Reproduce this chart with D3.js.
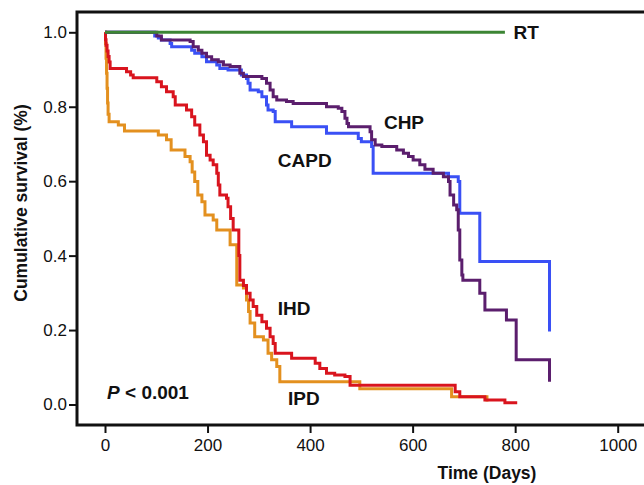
<!DOCTYPE html>
<html>
<head>
<meta charset="utf-8">
<script src="https://cdn.jsdelivr.net/npm/d3@7"></script>
<style>
  body { margin: 0; background: #fff; }
  svg text { font-family: "Liberation Sans", Arial, sans-serif; fill: #111; }
</style>
</head>
<body>
<svg id="chart" width="644" height="485"></svg>
<script>
// ticks
const xTicks = [0, 200, 400, 600, 800, 1000];
const yTicks = [0.0, 0.2, 0.4, 0.6, 0.8, 1.0];

// Kaplan-Meier steps, [day, survival after that day]
const ipd = [[0, 1], [1, 0.97], [2, 0.93], [3, 0.89], [4, 0.85], [5, 0.81], [6, 0.78], [8, 0.76],
  [26, 0.751], [38, 0.735], [104, 0.724], [120, 0.711], [129, 0.684], [156, 0.666], [166, 0.652],
  [170, 0.625], [175, 0.599], [181, 0.563], [189, 0.545], [195, 0.509], [211, 0.496], [218, 0.469],
  [244, 0.429], [257, 0.321], [270, 0.313], [276, 0.281], [280, 0.25], [283, 0.219], [292, 0.182],
  [309, 0.173], [318, 0.138], [325, 0.12], [335, 0.102], [341, 0.061], [497, 0.042], [676, 0.021],
  [745, 0.008]];

const ihd = [[0, 1], [1, 0.98], [2, 0.965], [4, 0.95], [6, 0.935], [8, 0.92], [10, 0.903],
  [42, 0.894], [50, 0.885], [55, 0.878], [101, 0.867], [110, 0.854], [120, 0.84], [133, 0.827],
  [137, 0.805], [159, 0.791], [169, 0.773], [175, 0.751], [185, 0.724], [192, 0.706], [198, 0.67],
  [205, 0.657], [211, 0.644], [218, 0.621], [221, 0.59], [224, 0.563], [237, 0.554], [240, 0.531],
  [245, 0.5], [250, 0.469], [261, 0.4], [263, 0.334], [270, 0.32], [276, 0.299], [283, 0.281],
  [289, 0.263], [296, 0.24], [306, 0.222], [315, 0.205], [322, 0.182], [328, 0.164], [332, 0.138],
  [364, 0.124], [410, 0.111], [419, 0.097], [432, 0.084], [448, 0.079], [468, 0.075], [478, 0.052],
  [683, 0.034], [692, 0.021], [741, 0.012], [780, 0.005], [804, 0.005]];

const capd = [[0, 1], [97, 0.99], [104, 0.985], [110, 0.979], [127, 0.97], [130, 0.961],
  [169, 0.952], [175, 0.944], [189, 0.934], [198, 0.921], [218, 0.912], [224, 0.903], [240, 0.899],
  [266, 0.885], [276, 0.876], [279, 0.863], [283, 0.845], [299, 0.84], [306, 0.827], [315, 0.805],
  [318, 0.791], [328, 0.787], [332, 0.76], [364, 0.746], [432, 0.729], [494, 0.715], [500, 0.706],
  [520, 0.693], [523, 0.621], [670, 0.612], [689, 0.599], [692, 0.514], [731, 0.384], [867, 0.196]];

const chp = [[0, 1], [101, 0.99], [110, 0.979], [166, 0.975], [172, 0.961], [182, 0.952],
  [189, 0.944], [198, 0.934], [208, 0.926], [221, 0.921], [231, 0.912], [244, 0.908], [263, 0.89],
  [270, 0.881], [306, 0.876], [315, 0.863], [322, 0.845], [328, 0.827], [335, 0.818], [354, 0.814],
  [367, 0.809], [432, 0.8], [455, 0.796], [462, 0.787], [468, 0.769], [472, 0.755], [475, 0.746],
  [517, 0.733], [520, 0.711], [527, 0.697], [540, 0.693], [569, 0.684], [582, 0.675], [592, 0.666],
  [601, 0.657], [614, 0.644], [624, 0.632], [640, 0.621], [660, 0.612], [670, 0.599], [673, 0.563],
  [680, 0.536], [686, 0.523], [689, 0.469], [692, 0.388], [696, 0.348], [698, 0.334], [731, 0.299],
  [741, 0.254], [783, 0.227], [802, 0.12], [867, 0.061]];

const rt = [[0, 1], [780, 1]];

// drawn in this order (later on top)
const series = [
  { name: "IPD", pts: ipd, color: "#e3901f" },
  { name: "IHD", pts: ihd, color: "#d9141e" },
  { name: "CAPD", pts: capd, color: "#3a50f5" },
  { name: "CHP", pts: chp, color: "#5b1e6d" },
  { name: "RT", pts: rt, color: "#3c8534" }
];

// curve labels, in data units
const labels = [
  { text: "RT", day: 797, s: 0.982 },
  { text: "CHP", day: 544, s: 0.74 },
  { text: "CAPD", day: 337, s: 0.638 },
  { text: "IHD", day: 337, s: 0.24 },
  { text: "IPD", day: 357, s: -0.001 }
];

const svg = d3.select("#chart");
const frame = { left: 77, top: 12, right: 644, bottom: 425 };

const x = d3.scaleLinear().domain([0, 1000]).range([105, 617.7]);
const y = d3.scaleLinear().domain([0, 1]).range([404.5, 32.3]);

// axes
const xAxis = d3.axisBottom(x).tickValues(xTicks).tickSize(8).tickPadding(6).tickFormat(d3.format("d"));
const yAxis = d3.axisLeft(y).tickValues(yTicks).tickSize(8).tickPadding(2).tickFormat(d3.format(".1f"));

const gx = svg.append("g").attr("transform", `translate(0,${frame.bottom})`).call(xAxis);
const gy = svg.append("g").attr("transform", `translate(${frame.left},0)`).call(yAxis);
[gx, gy].forEach(g => {
  g.select(".domain").remove();
  g.selectAll(".tick line").attr("stroke", "#111").attr("stroke-width", 2);
  g.selectAll(".tick text").attr("font-size", 17).attr("fill", "#111")
    .style("font-family", "'Liberation Sans', Arial, sans-serif");
});

// curves
const line = d3.line().x(d => x(d[0])).y(d => y(d[1])).curve(d3.curveStepAfter);
svg.append("g").selectAll("path")
  .data(series)
  .enter()
  .append("path")
  .attr("d", d => line(d.pts))
  .attr("fill", "none")
  .attr("stroke", d => d.color)
  .attr("stroke-width", 3);

// frame: top, left, bottom
svg.append("path")
  .attr("d", `M${frame.right},${frame.top}H${frame.left}V${frame.bottom}H${frame.right}`)
  .attr("fill", "none")
  .attr("stroke", "#111")
  .attr("stroke-width", 3);

svg.append("g").selectAll("text")
  .data(labels)
  .enter()
  .append("text")
  .attr("x", d => x(d.day))
  .attr("y", d => y(d.s))
  .attr("font-size", 19)
  .attr("font-weight", "bold")
  .text(d => d.text);

const p = svg.append("text")
  .attr("x", x(4))
  .attr("y", y(0.014))
  .attr("font-size", 19)
  .attr("font-weight", "bold");
p.append("tspan").attr("font-style", "italic").text("P");
p.append("tspan").text(" < 0.001");

// titles
svg.append("text")
  .attr("x", 487)
  .attr("y", 479)
  .attr("text-anchor", "middle")
  .attr("font-size", 17.5)
  .attr("font-weight", "bold")
  .text("Time (Days)");

svg.append("text")
  .attr("transform", "translate(27,203) rotate(-90)")
  .attr("text-anchor", "middle")
  .attr("font-size", 17.5)
  .attr("font-weight", "bold")
  .text("Cumulative survival (%)");
</script>
</body>
</html>
